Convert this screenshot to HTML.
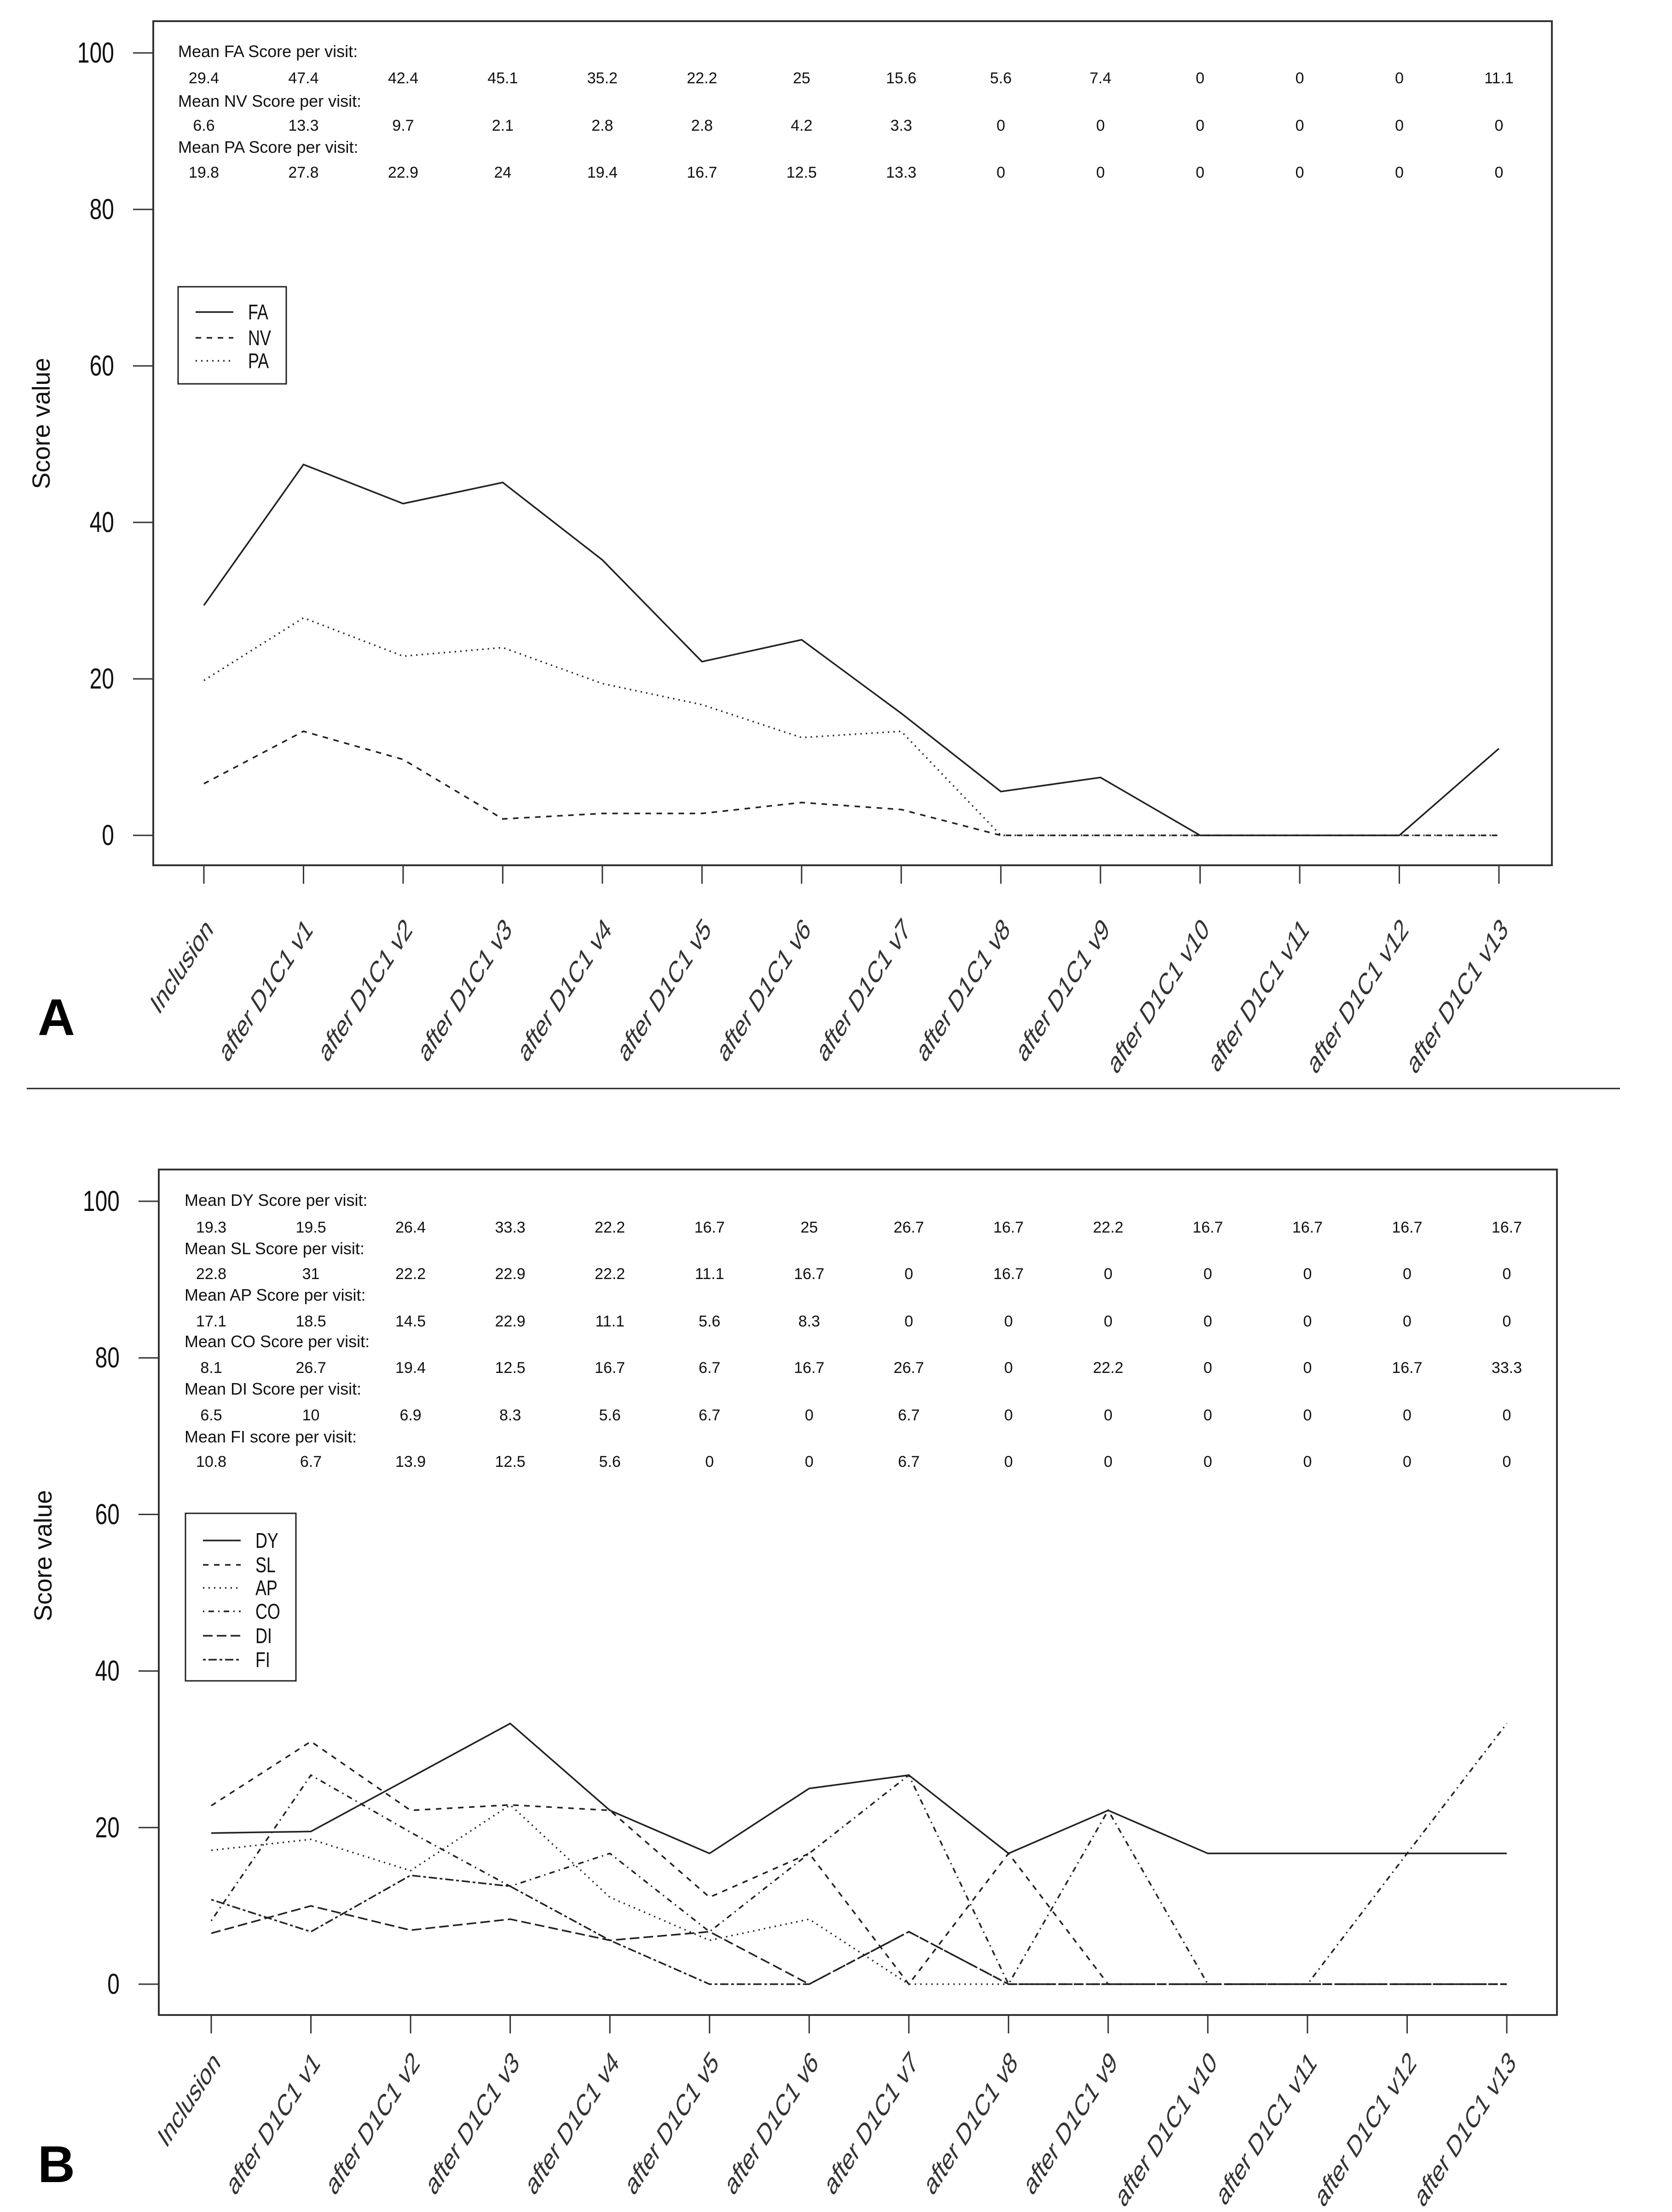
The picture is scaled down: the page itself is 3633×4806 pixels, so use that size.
<!DOCTYPE html>
<html><head><meta charset="utf-8">
<style>
html,body{margin:0;padding:0;background:#fff;}
svg{display:block;font-family:"Liberation Sans",sans-serif;}
</style></head>
<body>
<svg id="fig" width="3633" height="4806" viewBox="0 0 3633 4806" xmlns="http://www.w3.org/2000/svg">
<rect width="3633" height="4806" fill="#fff"/>
<line x1="58" y1="2365" x2="3520" y2="2365" stroke="#222" stroke-width="3"/>
<text x="82" y="2249" font-size="112" font-weight="bold" fill="#000">A</text>
<text x="82" y="4741" font-size="112" font-weight="bold" fill="#000">B</text>
</svg>
<script>
const categories = ["Inclusion","after D1C1 v1","after D1C1 v2","after D1C1 v3","after D1C1 v4","after D1C1 v5","after D1C1 v6","after D1C1 v7","after D1C1 v8","after D1C1 v9","after D1C1 v10","after D1C1 v11","after D1C1 v12","after D1C1 v13"];
const yTicks = [0,20,40,60,80,100];
const seriesNamesA = ["FA","NV","PA"];
const headersA = ["Mean FA Score per visit:","Mean NV Score per visit:","Mean PA Score per visit:"];
const faValues = [29.4,47.4,42.4,45.1,35.2,22.2,25,15.6,5.6,7.4,0,0,0,11.1];
const nvValues = [6.6,13.3,9.7,2.1,2.8,2.8,4.2,3.3,0,0,0,0,0,0];
const paValues = [19.8,27.8,22.9,24,19.4,16.7,12.5,13.3,0,0,0,0,0,0];
const seriesNamesB = ["DY","SL","AP","CO","DI","FI"];
const headersB = ["Mean DY Score per visit:","Mean SL Score per visit:","Mean AP Score per visit:","Mean CO Score per visit:","Mean DI Score per visit:","Mean FI score per visit:"];
const dyValues = [19.3,19.5,26.4,33.3,22.2,16.7,25,26.7,16.7,22.2,16.7,16.7,16.7,16.7];
const slValues = [22.8,31,22.2,22.9,22.2,11.1,16.7,0,16.7,0,0,0,0,0];
const apValues = [17.1,18.5,14.5,22.9,11.1,5.6,8.3,0,0,0,0,0,0,0];
const coValues = [8.1,26.7,19.4,12.5,16.7,6.7,16.7,26.7,0,22.2,0,0,16.7,33.3];
const diValues = [6.5,10,6.9,8.3,5.6,6.7,0,6.7,0,0,0,0,0,0];
const fiValues = [10.8,6.7,13.9,12.5,5.6,0,0,6.7,0,0,0,0,0,0];

const NS = "http://www.w3.org/2000/svg";
const svg = document.getElementById('fig');
const dashes = ["", "12 12", "3 9", "3 9 12 9", "21 9", "6 6 18 6"];
function mk(tag, attrs, parent){ const e=document.createElementNS(NS,tag); for(const k in attrs) e.setAttribute(k,attrs[k]); (parent||svg).appendChild(e); return e; }

function panel(cfg){
  const g = mk('g',{});
  
  
  const xS = i => cfg.x0 + i*(cfg.x1-cfg.x0)/(categories.length-1);
  const yS = v => cfg.y0 - v*(cfg.y0-cfg.y100)/100;
  const box = mk('rect',{x:cfg.left,y:cfg.top,width:cfg.right-cfg.left,height:cfg.bottom-cfg.top,fill:'none',stroke:'#333','stroke-width':4},g);
  
  
  yTicks.forEach(t=>{
    const y=yS(t);
    const tk = mk('line',{x1:cfg.left-44,y1:y,x2:cfg.left,y2:y,stroke:'#333','stroke-width':3},g);
    
    
    const tl = mk('text',{x:0,y:20,'font-size':60,'text-anchor':'end',fill:'#111',transform:`translate(${cfg.left-85},${y}) scale(0.8,1.05)`},g);
    tl.textContent = t;
    
    
  });
  const yt = mk('text',{x:0,y:0,'font-size':54,'text-anchor':'middle',fill:'#111',transform:`translate(${cfg.ylx},${cfg.yly}) rotate(-90)`},g);
  yt.textContent = 'Score value';
  
  
  categories.forEach((c,i)=>{
    const x=xS(i);
    const tk = mk('line',{x1:x,y1:cfg.bottom,x2:x,y2:cfg.bottom+40,stroke:'#333','stroke-width':3},g);
    
    
    const tl = mk('text',{x:0,y:0,'font-size':66,'text-anchor':'end',fill:'#333',transform:`translate(${x+22},${cfg.labY}) scale(0.65,1) rotate(-45)`},g);
    tl.textContent = c;
    
    
  });
  cfg.headers.forEach((h,k)=>{
    const ht = mk('text',{x:cfg.labX,y:cfg.rows[k][0]+12,'font-size':36,fill:'#111'},g);
    ht.textContent = h;
    
    
    cfg.series[k].forEach((v,i)=>{
      const vt = mk('text',{x:xS(i),y:cfg.rows[k][1]+12,'font-size':34,'text-anchor':'middle',fill:'#111'},g);
      vt.textContent = v;
      
      
    });
  });
  cfg.series.forEach((vals,k)=>{
    const pts = vals.map((v,i)=>xS(i)+','+yS(v)).join(' ');
    const pl = mk('polyline',{points:pts,fill:'none',stroke:'#222','stroke-width':3.5,'stroke-dasharray':dashes[k]},g);
    
    
  });
  const lg = mk('g',{},g);
  
  
  mk('rect',{x:cfg.leg.x,y:cfg.leg.y,width:cfg.leg.w,height:cfg.leg.h,fill:'#fff',stroke:'#222','stroke-width':3},lg);
  cfg.names.forEach((n,k)=>{
    const y = cfg.leg.rows[k];
    const ll = mk('line',{x1:cfg.leg.x+38,y1:y,x2:cfg.leg.x+120,y2:y,stroke:'#222','stroke-width':3.5,'stroke-dasharray':dashes[k]},lg);
    
    
    const lt = mk('text',{x:0,y:16,'font-size':46,fill:'#111',transform:`translate(${cfg.leg.x+152},${y}) scale(0.78,1)`},lg);
    lt.textContent = n;
    
    
  });
}

panel({id:'panel-a', left:333, right:3372, top:46, bottom:1880, x0:443, x1:3257, y0:1815, y100:115,
  ylx:108, yly:920, labY:2023, labX:387,
  headers:headersA, series:[faValues,nvValues,paValues], names:seriesNamesA,
  rows:[[112,169],[220,272],[320,374]],
  leg:{x:387,y:623,w:235,h:211,rows:[678,734,784]}});

panel({id:'panel-b', left:345, right:3383, top:2541, bottom:4378, x0:459, x1:3274, y0:4311, y100:2610,
  ylx:112, yly:3380, labY:4485, labX:401,
  headers:headersB, series:[dyValues,slValues,apValues,coValues,diValues,fiValues], names:seriesNamesB,
  rows:[[2608,2666],[2713,2767],[2814,2870],[2915,2971],[3018,3074],[3122,3175]],
  leg:{x:403,y:3288,w:240,h:364,rows:[3347,3400,3450,3501,3554,3606]}});
</script>
</body></html>
